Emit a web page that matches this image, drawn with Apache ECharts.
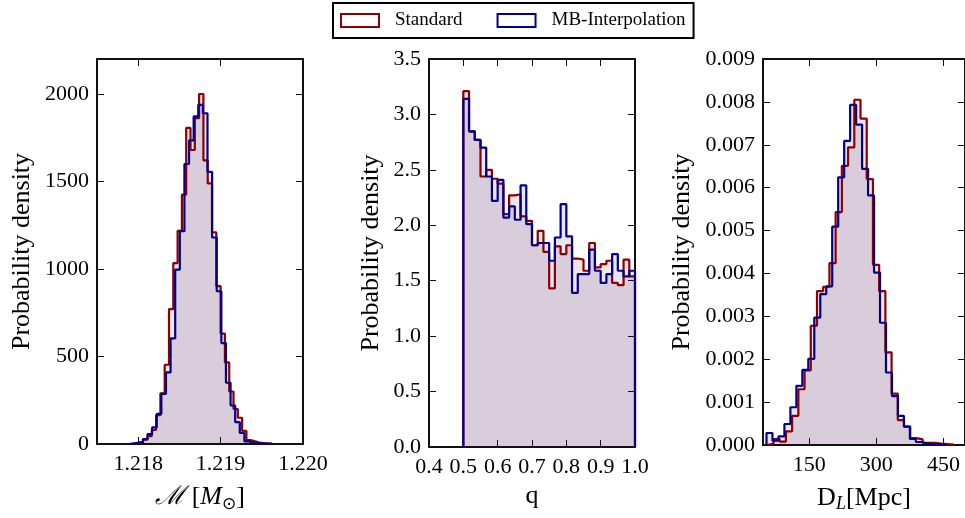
<!DOCTYPE html>
<html><head><meta charset="utf-8">
<script src="https://cdn.jsdelivr.net/npm/echarts@6/dist/echarts.min.js"></script>
<style>html,body{margin:0;padding:0;background:#fff}#c{width:965px;height:518px}</style>
</head><body><div id="c"></div>
<script>
// ---------- data ----------
const seriesNames = ['Standard', 'MB-Interpolation'];

// Panel 1: chirp mass histogram (bin start, bin width, densities)
const chirpRedStart = 1.217904, chirpRedWidth = 0.0000522;
const chirpRed = [4, 8, 12, 25, 45, 80, 165, 290, 453, 771, 1034, 1218, 1425, 1806, 1680, 1862, 2000, 1621, 1489, 1210, 902, 631, 466, 300, 200, 150, 75, 22, 15, 8, 5, 3, 2];
const chirpBlueStart = 1.217889, chirpBlueWidth = 0.000056;
const chirpBlue = [2, 5, 10, 28, 57, 95, 172, 286, 409, 604, 996, 1216, 1600, 1735, 1872, 1938, 1890, 1555, 1180, 873, 577, 350, 220, 125, 63, 15, 6, 5, 3, 2, 1];
const chirpXTicks = [1.218, 1.219, 1.220];

// Panel 2: mass ratio q
const qStart = 0.5, qWidth = 0.0166667;
const qRed  = [3.21, 2.85, 2.77, 2.44, 2.50, 2.42, 2.375, 2.10, 2.27, 2.28, 2.08, 2.04, 1.82, 1.95, 1.76, 1.43, 1.81, 1.74, 1.82, 1.70, 1.69, 1.59, 1.84, 1.62, 1.65, 1.68, 1.48, 1.46, 1.69, 1.54];
const qBlue = [3.14, 2.845, 2.77, 2.70, 2.44, 2.22, 2.41, 2.07, 2.17, 2.05, 2.36, 2.01, 1.82, 1.84, 1.84, 1.68, 1.89, 2.19, 1.90, 1.39, 1.56, 1.56, 1.78, 1.59, 1.48, 1.56, 1.74, 1.59, 1.54, 1.59];

// Panel 3: luminosity distance
const dlRedStart = 56.5, dlRedWidth = 13.88;
const dlRed  = [0.00003, 0.00014, 0.00008, 0.00032, 0.00068, 0.00130, 0.00174, 0.00278, 0.00359, 0.00369, 0.00424, 0.00543, 0.00651, 0.00694, 0.00805, 0.00761, 0.00620, 0.00420, 0.00359, 0.00216, 0.00120, 0.00058, 0.00043, 0.00016, 0.00013, 0.00005, 0.00005, 0.00003, 0.00002, 0.00001];
const dlBlueStart = 54.8, dlBlueWidth = 13.34;
const dlBlue = [0.00028, 0.00010, 0.00020, 0.00049, 0.00088, 0.00138, 0.00175, 0.00201, 0.00297, 0.00352, 0.00370, 0.00509, 0.00624, 0.00709, 0.00793, 0.00747, 0.00644, 0.00582, 0.00402, 0.00285, 0.00169, 0.00114, 0.00068, 0.00043, 0.00014, 0.00007, 0.00003, 0.00002, 0.00002, 0.00001];
const dlXTicks = [150, 300, 450];

// ---------- helpers ----------
const RED = '#8b0000', BLUE = '#00008b';
const FONT = '"Liberation Serif", "DejaVu Serif", serif';

function stepPoints(start, width, vals) {
  const pts = [[start, 0]];
  vals.forEach((v, i) => pts.push([start + i * width, v]));
  const end = start + vals.length * width;
  pts.push([end, vals[vals.length - 1]]);
  pts.push([end, 0]);
  return pts;
}

const spine = {show: true, onZero: false, lineStyle: {color: '#111', width: 2}};
const tick = {show: true, inside: true, length: 7, lineStyle: {color: '#111', width: 1}};
const lbl = {color: '#000', fontFamily: FONT, fontSize: 22};
const nameStyle = {color: '#000', fontFamily: FONT, fontSize: 26};

function xPair(grid, min, max, opts) {
  const base = {type: 'value', gridIndex: grid, min: min, max: max, splitLine: {show: false}, axisLine: spine};
  const bottom = Object.assign({}, base, {
    position: 'bottom',
    axisTick: Object.assign({}, tick, opts.custom ? {customValues: opts.custom} : {}),
    axisLabel: Object.assign({}, lbl, {margin: 9, formatter: opts.fmt}, opts.custom ? {customValues: opts.custom} : {}),
    name: opts.name, nameLocation: 'middle', nameGap: opts.nameGap,
    nameTextStyle: Object.assign({}, nameStyle, {rich: opts.rich || {}})
  }, opts.interval ? {interval: opts.interval} : {});
  const top = Object.assign({}, base, {
    position: 'top',
    axisTick: Object.assign({}, tick, opts.custom ? {customValues: opts.custom} : {}),
    axisLabel: {show: false}
  }, opts.interval ? {interval: opts.interval} : {});
  return [bottom, top];
}
function yPair(grid, min, max, interval, fmt, nameGap) {
  const base = {type: 'value', gridIndex: grid, min: min, max: max, interval: interval, splitLine: {show: false}, axisLine: spine, axisTick: tick};
  const left = Object.assign({}, base, {
    position: 'left',
    axisLabel: Object.assign({}, lbl, {margin: 8, formatter: fmt, showMaxLabel: true}),
    name: 'Probability density', nameLocation: 'middle', nameGap: nameGap, nameTextStyle: nameStyle
  });
  const right = Object.assign({}, base, {position: 'right', axisLabel: {show: false}});
  return [left, right];
}

const xAxes = [].concat(
  xPair(0, 1.2175, 1.2200, {custom: chirpXTicks, fmt: v => v.toFixed(3),
    name: '{cal|ℳ} [{it|M}{sub|⊙}]', nameGap: 38,
    rich: {cal: {fontFamily: FONT, fontSize: 26, fontStyle: 'italic'}, it: {fontFamily: FONT, fontSize: 26, fontStyle: 'italic'}, sub: {fontFamily: '"DejaVu Sans"', fontSize: 17, padding: [14, 0, 0, 0]}}}),
  xPair(1, 0.4, 1.0, {interval: 0.1, fmt: v => v.toFixed(1), name: 'q', nameGap: 36}),
  xPair(2, 47, 498, {custom: dlXTicks, fmt: v => String(Math.round(v)),
    name: 'D{sub|L}[Mpc]', nameGap: 38,
    rich: {sub: {fontFamily: FONT, fontSize: 18, fontStyle: 'italic', padding: [12, 0, 0, 0]}}})
);
const yAxes = [].concat(
  yPair(0, 0, 2200, 500, v => (v % 500 === 0 ? String(v) : ''), 62),
  yPair(1, 0, 3.5, 0.5, v => v.toFixed(1), 45),
  yPair(2, 0, 0.009, 0.001, v => v.toFixed(3), 68)
);

function hist(name, color, grid, pts) {
  return {
    type: 'line', name: name, xAxisIndex: grid * 2, yAxisIndex: grid * 2,
    data: pts, step: 'end', symbol: 'none', showSymbol: false, silent: true,
    lineStyle: {color: color, width: 2.2}, itemStyle: {color: color},
    areaStyle: {color: color, opacity: 0.1}, animation: false
  };
}

const series = [
  hist(seriesNames[0], RED, 0, stepPoints(chirpRedStart, chirpRedWidth, chirpRed)),
  hist(seriesNames[1], BLUE, 0, stepPoints(chirpBlueStart, chirpBlueWidth, chirpBlue)),
  hist(seriesNames[0], RED, 1, stepPoints(qStart, qWidth, qRed)),
  hist(seriesNames[1], BLUE, 1, stepPoints(qStart, qWidth, qBlue)),
  hist(seriesNames[0], RED, 2, stepPoints(dlRedStart, dlRedWidth, dlRed)),
  hist(seriesNames[1], BLUE, 2, stepPoints(dlBlueStart, dlBlueWidth, dlBlue))
];

const chart = echarts.init(document.getElementById('c'), null, {renderer: 'canvas'});
chart.setOption({
  animation: false,
  backgroundColor: '#fff',
  grid: [
    {left: 97, top: 59, width: 206, height: 388},
    {left: 429, top: 59, width: 206, height: 388},
    {left: 763, top: 59, width: 206, height: 388}
  ],
  xAxis: xAxes,
  yAxis: yAxes,
  legend: {
    left: 333, top: 3, orient: 'horizontal', selectedMode: false,
    borderColor: '#000', borderWidth: 2, padding: [8, 8, 8, 7],
    itemWidth: 38, itemHeight: 13, itemGap: 34,
    textStyle: {fontFamily: FONT, fontSize: 19, color: '#000', padding: [0, 0, 0, 11]},
    data: [
      {name: seriesNames[0], icon: 'rect', itemStyle: {color: '#fff', borderColor: RED, borderWidth: 2}},
      {name: seriesNames[1], icon: 'rect', itemStyle: {color: '#fff', borderColor: BLUE, borderWidth: 2}}
    ]
  },
  series: series
});
</script>
</body></html>
